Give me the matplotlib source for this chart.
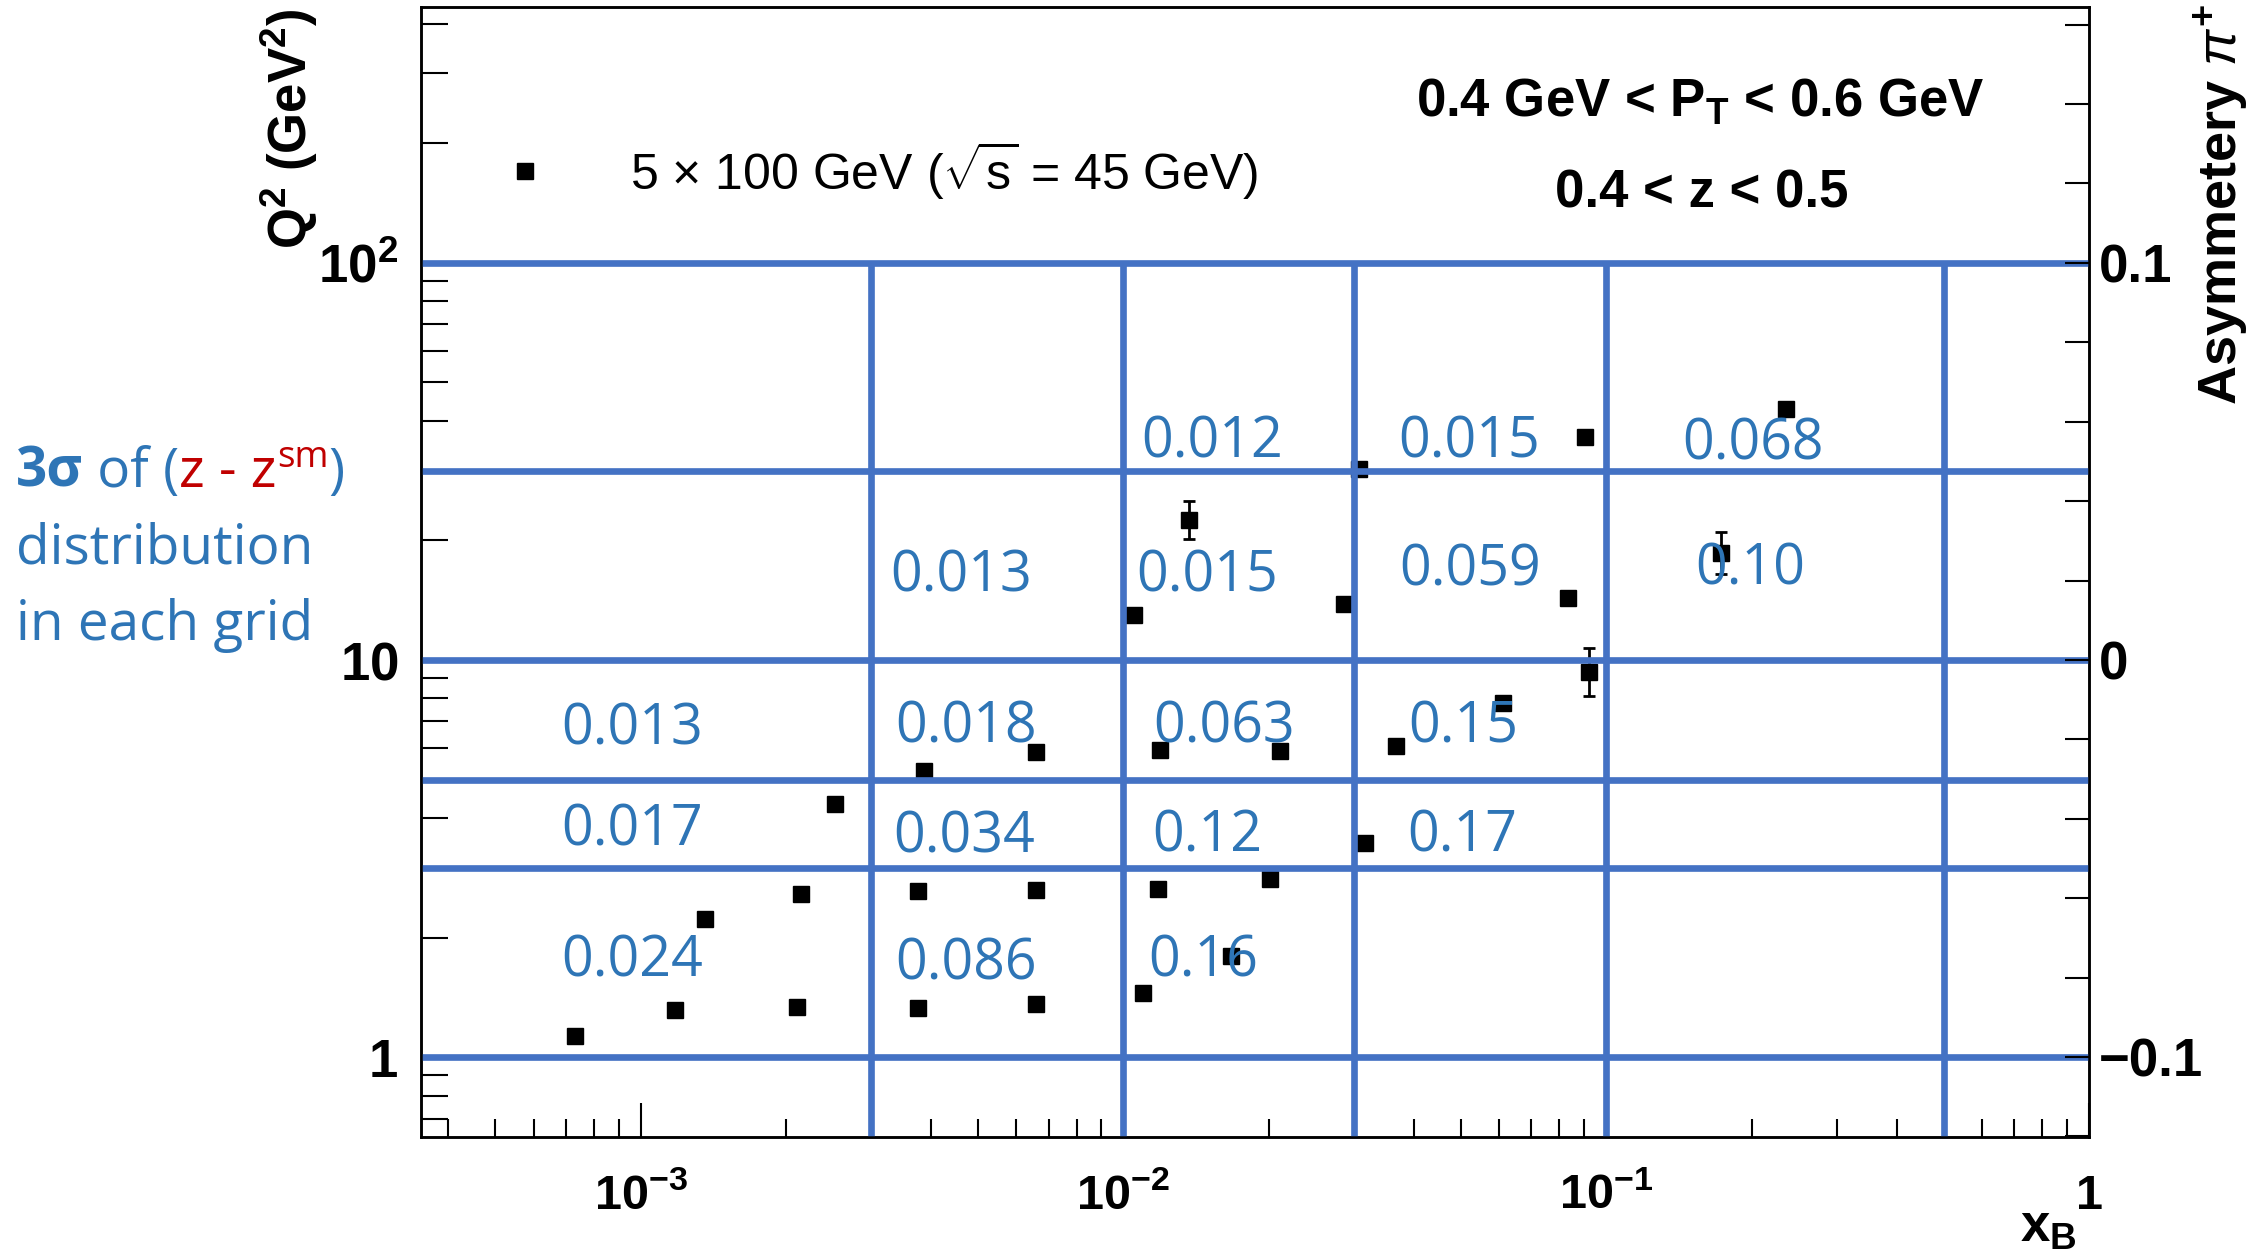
import numpy as np
import matplotlib
matplotlib.use("Agg")
import matplotlib.pyplot as plt
from matplotlib.lines import Line2D
from matplotlib.ticker import FixedLocator, FixedFormatter, LogLocator, NullFormatter, MultipleLocator

plt.rcParams['font.family'] = ['Liberation Sans', 'DejaVu Sans']
plt.rcParams['mathtext.fontset'] = 'custom'
plt.rcParams['mathtext.rm'] = 'Liberation Sans'
plt.rcParams['mathtext.bf'] = 'Liberation Sans:bold'
plt.rcParams['mathtext.it'] = 'Liberation Sans:italic'

# kinematic points (x_B, Q^2) and asymmetry errors (0 = bar hidden by marker)
x_b = [7.3e-4, 1.18e-3, 1.36e-3, 2.11e-3, 2.15e-3, 2.53e-3,
       3.76e-3, 3.76e-3, 3.86e-3, 6.6e-3, 6.6e-3, 6.6e-3,
       1.10e-2, 1.18e-2, 1.19e-2, 1.05e-2, 1.37e-2, 1.67e-2,
       2.01e-2, 2.11e-2, 2.87e-2, 3.07e-2, 3.16e-2, 3.67e-2,
       6.12e-2, 8.35e-2, 9.03e-2, 9.22e-2, 0.173, 0.236]
q2 = [1.13, 1.31, 2.23, 1.34, 2.58, 4.33,
      1.33, 2.62, 5.25, 1.36, 2.63, 5.87,
      1.45, 2.65, 5.93, 13.0, 22.5, 1.80,
      2.80, 5.90, 13.8, 30.2, 3.45, 6.07,
      7.79, 14.3, 36.5, 9.34, 18.6, 42.8]
asym_err = [0, 0, 0, 0, 0, 0.0008,
            0, 0, 0, 0, 0, 0,
            0, 0, 0, 0, 0.0047, 0,
            0, 0, 0, 0, 0, 0,
            0, 0, 0, 0.006, 0.0053, 0]

# grid boundaries
x_edges = [0.003, 0.01, 0.03, 0.1, 0.5]
q2_edges = [1, 3, 5, 10, 30, 100]

# 3 sigma value written in each grid cell
cell_values = ['0.012', '0.015', '0.068',
               '0.013', '0.015', '0.059', '0.10',
               '0.013', '0.018', '0.063', '0.15',
               '0.017', '0.034', '0.12', '0.17',
               '0.024', '0.086', '0.16']
# left edge / vertical centre of each number, in pixels of the picture
cell_pos = [(1141, 437), (1398, 437), (1682, 439),
            (890, 571), (1136, 571), (1399, 565), (1695, 564),
            (561, 724), (895, 722), (1153, 722), (1408, 722),
            (561, 825), (893, 832), (1152, 831), (1407, 831),
            (561, 956), (895, 959), (1148, 956)]

x_ticks = [1e-3, 1e-2, 1e-1, 1]
x_ticklabels = [r'$\mathbf{10^{-3}}$', r'$\mathbf{10^{-2}}$', r'$\mathbf{10^{-1}}$', r'$\mathbf{1}$']
y_ticks = [1, 10, 100]
y_ticklabels = [r'$\mathbf{1}$', r'$\mathbf{10}$', r'$\mathbf{10^{2}}$']
asym_ticks = [-0.1, 0, 0.1]
asym_ticklabels = ['\u22120.1', '0', '0.1']

W, H = 2266, 1254
BLUE_LINE = '#4472C4'
BLUE_TXT = '#2E75B6'
RED_TXT = '#C00000'

fig = plt.figure(figsize=(W / 100, H / 100), dpi=100)
ax = fig.add_axes([420.5 / W, (H - 1137) / H, 1668.5 / W, 1130 / H])
ax.set_xscale('log')
ax.set_yscale('log')
ax.set_xlim(3.5e-4, 1)
ax.set_ylim(0.629, 441)

# points with errors drawn as asymmetry, 0.1 per decade on the right scale
x_b = np.array(x_b)
q2 = np.array(q2)
asym_err = np.array(asym_err)
fac = 10 ** (asym_err / 0.1)
ax.plot(x_b, q2, 's', color='k', ms=12, zorder=2)
m = asym_err > 0
ax.errorbar(x_b[m], q2[m], yerr=[q2[m] - q2[m] / fac[m], q2[m] * fac[m] - q2[m]],
            fmt='none', ecolor='k', elinewidth=2, capsize=4.3, capthick=2, zorder=2)

# grid lines
for y in q2_edges:
    ax.axhline(y, color=BLUE_LINE, lw=4.8, zorder=3)
ax.vlines(x_edges, ax.get_ylim()[0], q2_edges[-1], color=BLUE_LINE, lw=4.8, zorder=3)

# axes styling, ROOT-like
for sp in ax.spines.values():
    sp.set_linewidth(1.8)
ax.xaxis.set_major_locator(FixedLocator(x_ticks))
ax.xaxis.set_major_formatter(FixedFormatter(x_ticklabels))
ax.xaxis.set_minor_locator(LogLocator(base=10, subs=np.arange(2, 10)))
ax.xaxis.set_minor_formatter(NullFormatter())
ax.yaxis.set_major_locator(FixedLocator(y_ticks))
ax.yaxis.set_major_formatter(FixedFormatter(y_ticklabels))
ax.yaxis.set_minor_locator(LogLocator(base=10, subs=np.arange(2, 10)))
ax.yaxis.set_minor_formatter(NullFormatter())
ax.tick_params(axis='x', which='major', direction='in', length=24.5, width=1.5, labelsize=35, pad=52)
ax.tick_params(axis='x', which='minor', direction='in', length=13, width=1.5)
ax.tick_params(axis='y', which='major', direction='in', length=39, width=1.5, labelsize=38, pad=16)
ax.tick_params(axis='y', which='minor', direction='in', length=19.5, width=1.5)
ax.tick_params(which='both', top=False, right=False)
for lab in ax.get_xticklabels():
    lab.set_verticalalignment('baseline')

ax2 = ax.twinx()
ax2.set_ylim(0.1 * (np.log10(0.629) - 1), 0.1 * (np.log10(441) - 1))
ax2.yaxis.set_major_locator(FixedLocator(asym_ticks))
ax2.yaxis.set_major_formatter(FixedFormatter(asym_ticklabels))
ax2.yaxis.set_minor_locator(MultipleLocator(0.02))
ax2.tick_params(which='both', direction='in', length=17, width=1.5)
ax2.tick_params(which='major', labelsize=38, pad=7)
for lab in ax2.get_yticklabels():
    lab.set_fontweight('bold')
for sp in ax2.spines.values():
    sp.set_linewidth(1.8)

# legend
h = Line2D([], [], marker='s', color='k', ls='none', ms=12)
ax.legend([h], [r'5 $\times$ 100 GeV ($\sqrt{\mathrm{s}}$ = 45 GeV)'],
          loc='center left', bbox_to_anchor=(0.0474, 0.8558), frameon=False,
          borderpad=0, borderaxespad=0, handlelength=1.0, handletextpad=1.6,
          fontsize=36)

# axis titles and cut labels
fig.text(289 / W, 1 - 8 / H, r'$\mathbf{Q^{2}}$ $\mathbf{(GeV^{2})}$', rotation=90,
         ha='center', va='top', fontsize=38)
fig.text(2222 / W, 1 - 4 / H, r'Asymmetery $\pi^{\mathbf{+}}$', rotation=90,
         ha='center', va='top', fontsize=39, fontweight='bold')
fig.text(2077 / W, 1 / H, r'$\mathbf{x_{B}}$', ha='right', va='bottom', fontsize=38)
fig.text(1700 / W, 1 - 117 / H, r'0.4 GeV < P$_{\mathbf{T}}$ < 0.6 GeV', ha='center',
         va='baseline', fontsize=38, fontweight='bold')
fig.text(1702 / W, 1 - 207 / H, '0.4 < z < 0.5', ha='center', va='baseline',
         fontsize=38, fontweight='bold')

# numbers in the cells
for s, (px, py) in zip(cell_values, cell_pos):
    fig.text(px / W, 1 - (py + 20.5) / H, s, color=BLUE_TXT, family='Open Sans',
             fontsize=40, ha='left', va='baseline', zorder=5)

# side note, built piece by piece for the colours
r = fig.canvas.get_renderer()
pieces = [('3\u03c3', BLUE_TXT, 'bold', 39.5, 0),
          (' of (', BLUE_TXT, 'normal', 39.5, 0),
          ('z - z', RED_TXT, 'normal', 39.5, 0),
          ('sm', RED_TXT, 'normal', 26.5, 20),
          (')', BLUE_TXT, 'normal', 39.5, 0)]
xp = 16
for s, c, wgt, size, dy in pieces:
    t = fig.text(xp / W, 1 - (487 - dy) / H, s, color=c, fontweight=wgt, fontsize=size,
                 family='Open Sans', ha='left', va='baseline')
    xp = t.get_window_extent(renderer=r).x1
fig.text(16 / W, 1 - 563 / H, 'distribution', color=BLUE_TXT, family='Open Sans',
         fontsize=39.5, ha='left', va='baseline')
fig.text(16 / W, 1 - 640 / H, 'in each grid', color=BLUE_TXT, family='Open Sans',
         fontsize=39.5, ha='left', va='baseline')

fig.savefig('out.png', dpi=100)
